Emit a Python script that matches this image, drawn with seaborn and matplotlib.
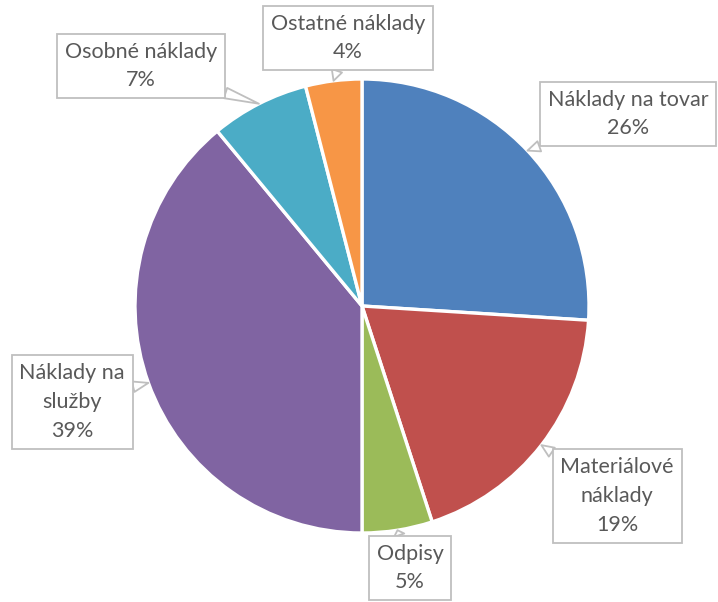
import numpy as np
import matplotlib
matplotlib.use("Agg")
import matplotlib.pyplot as plt
import seaborn as sns

# data
categories = ["Náklady na tovar", "Materiálové\nnáklady", "Odpisy",
              "Náklady na\nslužby", "Osobné náklady", "Ostatné náklady"]
shares = [26, 19, 5, 39, 7, 4]
colors = ["#4F81BD", "#C0504D", "#9BBB59", "#8064A2", "#4BACC6", "#F79646"]

# label box centres in figure pixels (x from left, y from top)
label_pos = [(628, 114), (617, 496), (410, 568), (72, 402), (141, 66), (348, 38)]

sns.set_theme(style="white")
plt.rcParams['font.family'] = ['Lato', 'DejaVu Sans']

W, H = 718, 602
fig = plt.figure(figsize=(W / 100, H / 100), dpi=100)
cx, cy, r = 362, 306, 227
ax = fig.add_axes([(cx - r) / W, (H - cy - r) / H, 2 * r / W, 2 * r / H])
ax.axis('off')

wedges, _ = ax.pie(shares, colors=colors, startangle=90, counterclock=False,
                   radius=1, wedgeprops=dict(edgecolor='white', linewidth=2.4))
ax.set_xlim(-1, 1)
ax.set_ylim(-1, 1)

for w, lab, val, (px, py) in zip(wedges, categories, shares, label_pos):
    ang = np.deg2rad((w.theta1 + w.theta2) / 2)
    tip = (1.0 * np.cos(ang), 1.0 * np.sin(ang))
    ax.annotate(f"{lab}\n{val}%", xy=tip, xycoords='data',
                xytext=(px / W, 1 - py / H), textcoords='figure fraction',
                ha='center', va='center', fontsize=15.5, color='#595959',
                linespacing=1.55, annotation_clip=False,
                bbox=dict(boxstyle='square,pad=0.36', fc='white', ec='#BFBFBF', lw=1.3),
                arrowprops=dict(arrowstyle='wedge,tail_width=0.5,shrink_factor=0.5',
                                fc='white', ec='#BFBFBF', lw=1.3,
                                shrinkA=0, shrinkB=0))

fig.savefig("out.png", dpi=100)
